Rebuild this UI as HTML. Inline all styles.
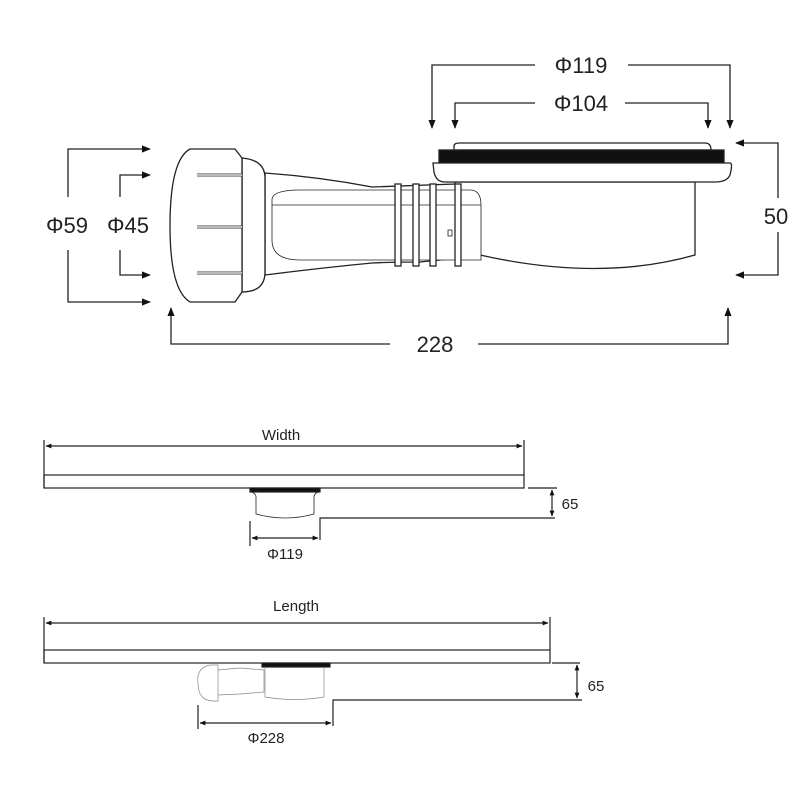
<!DOCTYPE html>
<html><head><meta charset="utf-8"><style>html,body{margin:0;padding:0;background:#fff}svg{display:block}</style></head>
<body>
<svg width="800" height="800" viewBox="0 0 800 800" xmlns="http://www.w3.org/2000/svg" font-family="Liberation Sans, DejaVu Sans, sans-serif">
<defs>
<marker id="a" viewBox="0 0 10 10" refX="9" refY="5" markerWidth="7" markerHeight="7" orient="auto"><path d="M0,1 L10,5 L0,9 z" fill="#111"/></marker>
<marker id="s" viewBox="0 0 10 10" refX="9" refY="5" markerWidth="5" markerHeight="5" orient="auto-start-reverse"><path d="M0,1 L10,5 L0,9 z" fill="#111"/></marker>
</defs>
<g fill="none" stroke="#222" stroke-width="1.3">
<!-- Φ119 -->
<path d="M535,65 H432 V128" marker-end="url(#a)"/>
<path d="M628,65 H730 V128" marker-end="url(#a)"/>
<!-- Φ104 -->
<path d="M535,103 H455 V128" marker-end="url(#a)"/>
<path d="M625,103 H708 V128" marker-end="url(#a)"/>
<!-- Φ59 -->
<path d="M68,197 V149 H150" marker-end="url(#a)"/>
<path d="M68,250 V302 H150" marker-end="url(#a)"/>
<!-- Φ45 -->
<path d="M120,197 V175 H150" marker-end="url(#a)"/>
<path d="M120,250 V275 H150" marker-end="url(#a)"/>
<!-- 50 -->
<path d="M778,198 V143 H736" marker-end="url(#a)"/>
<path d="M778,232 V275 H736" marker-end="url(#a)"/>
<!-- 228 -->
<path d="M390,344 H171 V308" marker-end="url(#a)"/>
<path d="M478,344 H728 V308" marker-end="url(#a)"/>
</g>
<g font-size="22" fill="#222" text-anchor="middle">
<text x="581" y="73">Φ119</text>
<text x="581" y="111">Φ104</text>
<text x="67" y="233">Φ59</text>
<text x="128" y="233">Φ45</text>
<text x="776" y="224">50</text>
<text x="435" y="352">228</text>
</g>
<!-- trap drawing -->
<g fill="#fff" stroke="#222" stroke-width="1.3">
<path d="M481,182 H695 V255 Q600,282 480,255 Q460,258 420,262 Q390,262 372,263 Q320,268 265,275 V173 Q320,177 372,187 L455,184 L455,182 Z"/>
<path d="M272,200 Q272,190 300,190 L470,190 Q481,190 481,205 V260 H300 Q272,260 272,240 Z" stroke-width="0.8"/>
<line x1="272" y1="205" x2="481" y2="205" stroke-width="0.7"/>
<rect x="395" y="184" width="6" height="82"/>
<rect x="413" y="184" width="6" height="82"/>
<rect x="430" y="184" width="6" height="82"/>
<rect x="455" y="184" width="6" height="82"/>
<rect x="448" y="230" width="4" height="6" stroke-width="0.8"/>
<path d="M242,158 Q265,160 265,178 V272 Q265,292 242,292 Z"/>
<path d="M190,149 H235 L242,158 V292 L235,302 H190 Q170,290 170,226 Q170,160 190,149 Z"/>
<path d="M197,175 H242 M197,227 H242 M197,273 H242" stroke-width="3" stroke="#444"/>
<path d="M197,175 H242 M197,227 H242 M197,273 H242" stroke-width="1.3" stroke="#fff"/>
<path d="M454,150 V146 Q454,143 460,143 H705 Q711,143 711,150 Z"/>
<rect x="439" y="150" width="285" height="13" fill="#111"/>
<path d="M433,163 H730 Q733,163 730,175 Q727,182 715,182 H445 Q436,182 434,172 Z"/>
</g>
<!-- Width section -->
<g fill="none" stroke="#222" stroke-width="1.2">
<line x1="44" y1="440" x2="44" y2="488"/>
<line x1="524" y1="440" x2="524" y2="475"/>
<line x1="46" y1="446" x2="522" y2="446" marker-start="url(#s)" marker-end="url(#s)"/>
<rect x="44" y="475" width="480" height="13"/>
<rect x="250" y="488" width="70" height="4" fill="#111"/>
<path d="M252,492 Q256,494 256,497 V514 Q285,522 314,514 V497 Q314,494 318,492" stroke-width="0.8"/>
<path d="M320,540 V518 H555"/>
<path d="M528,488 H557"/>
<line x1="250" y1="521" x2="250" y2="546"/>
<line x1="252" y1="538" x2="318" y2="538" marker-start="url(#s)" marker-end="url(#s)"/>
<line x1="552" y1="490" x2="552" y2="516" marker-start="url(#s)" marker-end="url(#s)"/>
<!-- Length section -->
<line x1="44" y1="617" x2="44" y2="663"/>
<line x1="550" y1="617" x2="550" y2="650"/>
<line x1="46" y1="623" x2="548" y2="623" marker-start="url(#s)" marker-end="url(#s)"/>
<rect x="44" y="650" width="506" height="13"/>
<rect x="262" y="663" width="68" height="4" fill="#111"/>
<path d="M265,667 V697 Q295,702 324,697 V667" stroke-width="0.7" stroke="#888"/>
<path d="M210,665 Q196,668 198,683 Q198,700 212,701 H218 V665 Z M218,670 L240,668 L264,670 V692 L240,694 L218,695" stroke-width="0.7" stroke="#888"/>
<path d="M333,726 V700 H582"/>
<path d="M552,663 H580"/>
<line x1="198" y1="705" x2="198" y2="729"/>
<line x1="200" y1="723" x2="331" y2="723" marker-start="url(#s)" marker-end="url(#s)"/>
<line x1="577" y1="665" x2="577" y2="698" marker-start="url(#s)" marker-end="url(#s)"/>
</g>
<g font-size="15" fill="#222" text-anchor="middle">
<text x="281" y="440">Width</text>
<text x="285" y="559">Φ119</text>
<text x="570" y="509">65</text>
<text x="296" y="611">Length</text>
<text x="266" y="743">Φ228</text>
<text x="596" y="691">65</text>
</g>
</svg>
</body></html>
